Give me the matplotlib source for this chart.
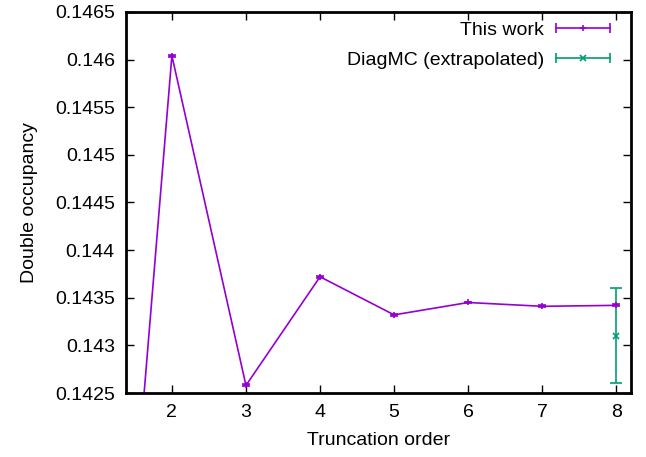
import matplotlib
matplotlib.use("Agg")

import matplotlib.pyplot as plt
from matplotlib.lines import Line2D
from matplotlib.legend_handler import HandlerBase

# data
orders = [1, 2, 3, 4, 5, 6, 7, 8]
docc = [0.1366, 0.14604, 0.14258, 0.14372, 0.14332, 0.14345, 0.14341, 0.14342]
docc_err = [0.00001] * 8

dmc_order = [8]
dmc_docc = [0.1431]
dmc_err = [0.0005]

xticks = [2, 3, 4, 5, 6, 7, 8]
yticks = [0.1425, 0.143, 0.1435, 0.144, 0.1445, 0.145, 0.1455, 0.146, 0.1465]
ytick_labels = ['0.1425', '0.143', '0.1435', '0.144', '0.1445', '0.145', '0.1455', '0.146', '0.1465']

purple = '#9400D3'
green = '#009E73'

plt.rcParams['font.family'] = ['Liberation Sans', 'DejaVu Sans']
plt.rcParams['font.size'] = 14


class ErrBarHandler(HandlerBase):
    # gnuplot-like key sample: line with end caps and the point marker in the middle
    def create_artists(self, legend, orig_handle, xdescent, ydescent,
                       width, height, fontsize, trans):
        c = orig_handle.get_color()
        y = height / 2 - ydescent
        x0, x1 = -xdescent, -xdescent + width
        line = Line2D([x0, x1], [y, y], color=c, lw=1.2)
        caps = Line2D([x0, x1], [y, y], ls='', marker='|', ms=7, mew=1.2, color=c)
        mid = Line2D([(x0 + x1) / 2], [y], ls='', marker=orig_handle.get_marker(),
                     ms=5, mew=1.2, color=c)
        for a in (line, caps, mid):
            a.set_transform(trans)
        return [line, caps, mid]


fig = plt.figure(figsize=(6.46, 4.57), dpi=100)
ax = fig.add_axes([0.195, 0.140, 0.782, 0.834])

ax.errorbar(orders, docc, yerr=docc_err, color=purple, lw=1.2, marker='+',
            ms=5, mew=1.2, capsize=3, elinewidth=1.2)
ax.errorbar(dmc_order, dmc_docc, yerr=dmc_err, color=green, ls='none', marker='x',
            ms=5, mew=1.2, capsize=4, elinewidth=1.2)

ax.set_xlim(1.38, 8.2)
ax.set_ylim(0.1425, 0.1465)
ax.set_xticks(xticks)
ax.set_yticks(yticks)
ax.set_yticklabels(ytick_labels)
ax.tick_params(direction='in', length=6, width=1, top=True, right=True, pad=8)
for s in ax.spines.values():
    s.set_linewidth(2)

ax.set_xlabel('Truncation order', labelpad=8)
ax.set_ylabel('Double occupancy', labelpad=12)

handles = [Line2D([], [], color=purple, marker='+'),
           Line2D([], [], color=green, marker='x')]
ax.legend(handles, ['This work', 'DiagMC (extrapolated)'], loc='upper right',
          bbox_to_anchor=(0.985, 1.01),
          frameon=False, markerfirst=False, handlelength=2.8, handletextpad=0.6,
          labelspacing=0.6, borderaxespad=0.3, borderpad=0.4,
          handler_map={Line2D: ErrBarHandler()})

fig.savefig('out.png', dpi=100)
